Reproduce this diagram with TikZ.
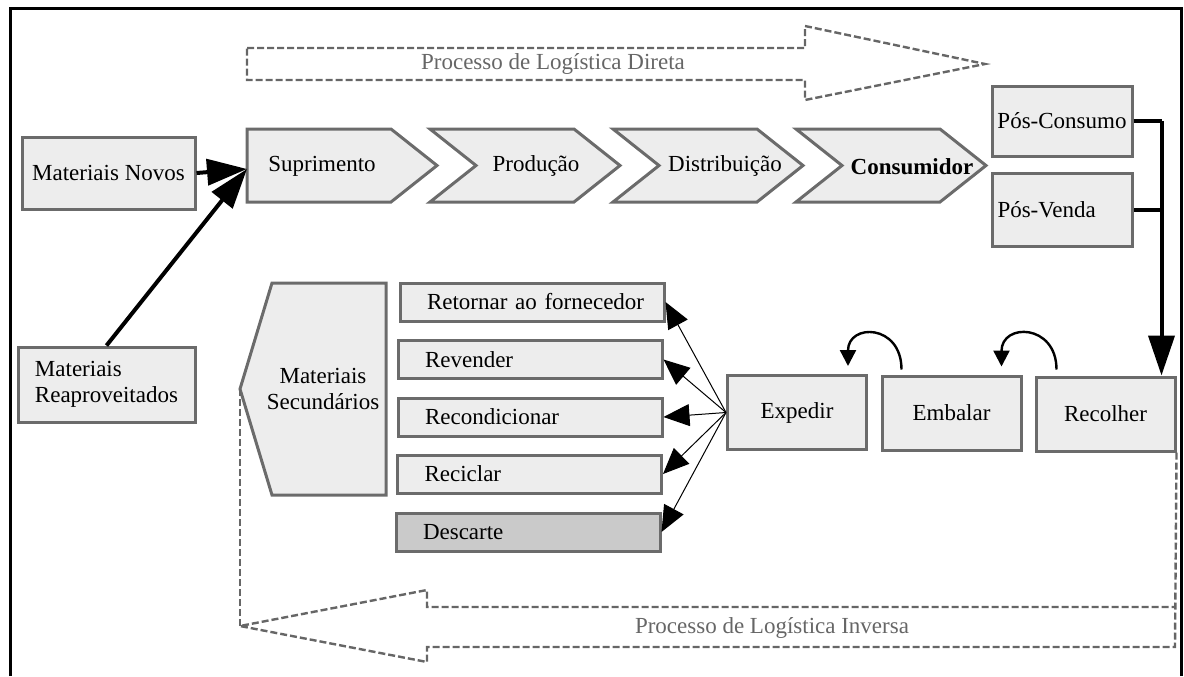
\documentclass[tikz,border=0pt]{standalone}
\usepackage{fontspec}
\setmainfont{Liberation Serif}
\usetikzlibrary{arrows.meta,calc}

\definecolor{boxfill}{HTML}{EDEDED}
\definecolor{boxline}{HTML}{6B6B6B}
\definecolor{dashgray}{HTML}{666666}
\definecolor{darkfill}{HTML}{CACACA}

% chevron: #1 = left x, #2 = notch depth
\newcommand{\chevshape}[2]{%
  \draw[box] (#1,129) -- ++(144,0) -- ++(46,36.5) -- ++(-46,36.5)
    -- ++(-144,0) -- ++(#2,-36.5) -- cycle;}

\tikzset{
  txt/.style={font=\fontsize{11.5pt}{13pt}\selectfont, inner sep=2pt},
  box/.style={txt, draw=boxline, fill=boxfill, line width=1.5pt},
  stagebox/.style={box, minimum width=69.5pt, minimum height=37pt},
  optbox/.style={box, minimum height=19pt, text width=132pt,
    inner xsep=0pt, inner ysep=0pt, align=left,
    execute at begin node=\hspace*{13.5pt}},
  heavy/.style={line width=2pt},
  bigtip/.style={-{Triangle[length=20pt,width=13pt]}},
  fan/.style={line width=0.5pt, -{Triangle[length=13pt,width=11pt]}},
  backarrow/.style={line width=1.2pt, -{Triangle[length=8pt,width=8pt]}},
  flow/.style={draw=dashgray, line width=1.2pt, dash pattern=on 3.5pt off 1.5pt},
  flowtext/.style={txt, text=dashgray}
}

\begin{document}
\begin{tikzpicture}[x=0.5pt,y=-0.5pt]
  \useasboundingbox (0,0) rectangle (1184,676);
  % frame
  \draw[line width=1.5pt] (10,676) -- (10,8) -- (1181,8) -- (1181,676);

  % direct flow
  \draw[flow] (247,48) -- (805,48) -- (805,26) -- (985,64) -- (805,100)
    -- (805,80) -- (247,80) -- cycle;
  \node[flowtext] (direta) at (553,64) {Processo de Logística Direta};

  \node[box, minimum width=86.5pt, minimum height=36pt] (novos) at (108.5,173) {Materiais Novos};
  \node[box, minimum width=88.5pt, minimum height=37.5pt, align=left] (reaprov) at (106.5,384.5) {Materiais\\Reaproveitados};

  \chevshape{247}{0}
  \chevshape{430}{46}
  \chevshape{613}{46}
  \chevshape{796}{46}
  \coordinate (supin) at (247,169);
  \node[txt, anchor=west] (suprimento) at (264,166) {Suprimento};
  \node[txt] (producao) at (536,166) {Produção};
  \node[txt] (distribuicao) at (725,166) {Distribuição};
  \node[txt, font=\fontsize{11.5pt}{13pt}\selectfont\bfseries] (consumidor) at (912,167) {Consumidor};

  \node[box, minimum width=70pt, minimum height=35pt] (poscons) at (1062,121) {Pós-Consumo};
  \node[box, minimum height=36.5pt, text width=65pt, inner xsep=2.5pt, align=left] (posvenda) at (1062.5,209.5) {Pós-Venda};

  \draw[heavy,bigtip] (novos.east) -- (supin);
  \draw[heavy,bigtip] (reaprov.north) -- (supin);

  % reverse flow
  \node[stagebox] (recolher) at (1105.5,414) {Recolher};
  \node[stagebox] (embalar) at (951.5,413) {Embalar};
  \node[stagebox] (expedir) at (797,412.5) {Expedir};

  \draw[heavy] (poscons.east) -- ++(28,0) coordinate (jtop);
  \draw[heavy] (posvenda.east) -- (posvenda.east -| jtop);
  \draw[heavy,bigtip] (jtop) -- (jtop |- recolher.north);

  \draw[backarrow] ($(recolher.north west)+(22,-6)$) .. controls ($(recolher.north west)+(22,-52)$) and ($(embalar.north east)+(-21,-52)$) .. ($(embalar.north east)+(-21,-8)$);
  \draw[backarrow] ($(embalar.north west)+(21,-5)$) .. controls ($(embalar.north west)+(21,-51)$) and ($(expedir.north east)+(-20,-51)$) .. ($(expedir.north east)+(-20,-8)$);

  \node[optbox] (retornar) at (532,302) {Retornar ao fornecedor};
  \node[optbox] (revender) at (530,359.5) {Revender};
  \node[optbox] (recond) at (530,417) {Recondicionar};
  \node[optbox] (reciclar) at (529.5,474) {Reciclar};
  \node[optbox, fill=darkfill] (descarte) at (528,532) {Descarte};

  \foreach \t in {retornar,revender,recond,reciclar,descarte}
    \draw[fan] (expedir.west) -- (\t.east);

  \draw[box] (272,283) -- (386,283) -- (386,495) -- (272,495) -- (240,389) coordinate (sectip) -- cycle;
  \node[txt, align=center] (secund) at (323,389) {Materiais\\Secundários};

  \draw[flow] (recolher.south east) -- (1175,647) -- (427,647) -- (427,662)
    -- (240,626) coordinate (itip) -- (427,590) -- (427,607) -- (1175,607);
  \draw[flow] (itip) -- (sectip);
  \node[flowtext] (inversa) at (772,628) {Processo de Logística Inversa};
\end{tikzpicture}
\end{document}
